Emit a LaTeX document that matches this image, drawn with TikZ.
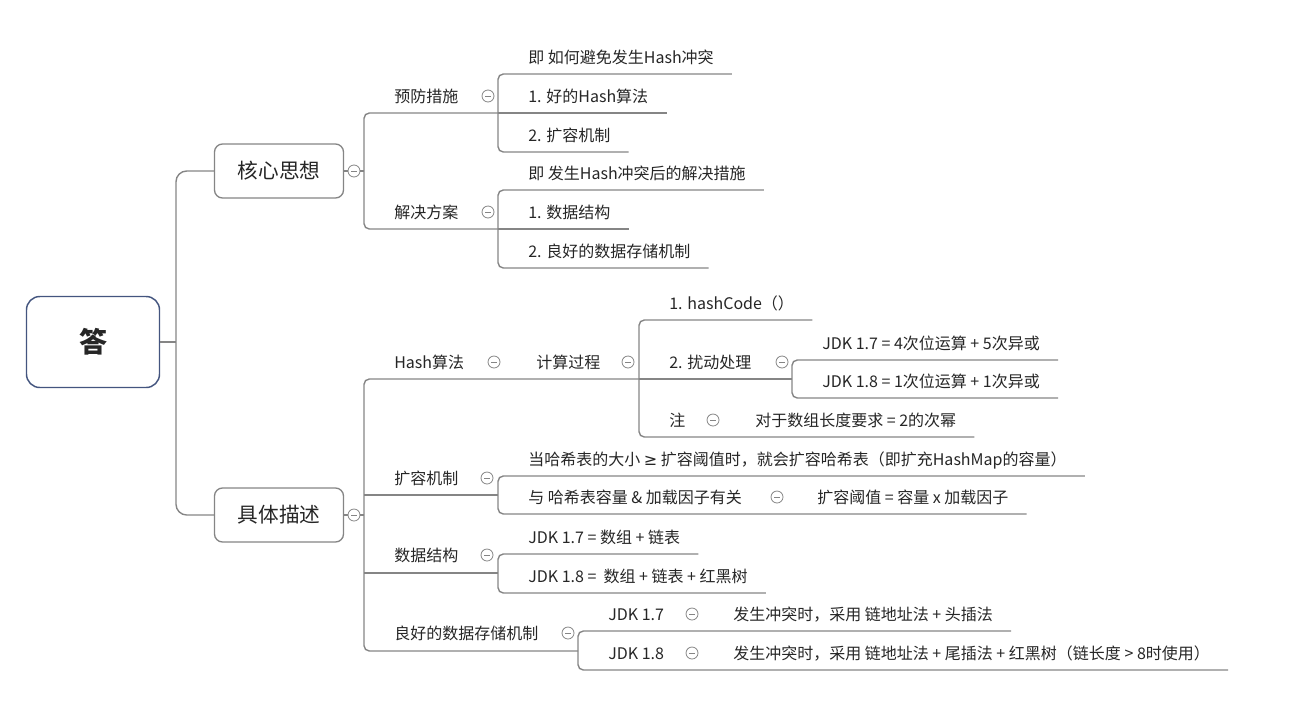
\documentclass[tikz,border=0pt]{standalone}
\usepackage{fontspec}
\setmainfont{Noto Sans CJK SC}
\newfontfamily\symfont{DejaVu Sans}
\usepackage{tikz}
\usetikzlibrary{calc}
\definecolor{ink}{HTML}{262626}
\definecolor{edge}{HTML}{858585}
\definecolor{navy}{HTML}{44557F}

\begin{document}
\begin{tikzpicture}[
    x=0.75pt, y=-0.75pt,
    every node/.style={text=ink, font=\fontsize{12}{14}\selectfont},
    rootbox/.style={draw=navy, line width=1.1pt, fill=white, rounded corners=10pt,
                    minimum width=99.75pt, minimum height=68.25pt,
                    font=\fontsize{21}{24}\selectfont\bfseries},
    topic/.style={draw=edge, line width=1pt, fill=white, rounded corners=6pt,
                  minimum width=96.75pt, minimum height=40.5pt,
                  font=\fontsize{15.5}{18}\selectfont},
    leaf/.style={anchor=west, inner xsep=0pt, inner ysep=0pt, text height=10.5pt, text depth=1.5pt},
    fold/.style={circle, draw=edge, fill=white, line width=0.6pt, minimum size=9pt, inner sep=0pt,
                 path picture={\draw[edge, line width=0.6pt]
                   ([xshift=-2.2pt]path picture bounding box.center) --
                   ([xshift=2.2pt]path picture bounding box.center);}},
    link/.style={draw=edge, line width=1.05pt, rounded corners=4pt}
]
    \useasboundingbox (0,0) rectangle (1291,718);

    \node[rootbox] (ans) at (93,342) {答};
    \node[topic] (core) at (279,171) {核心思想};
    \node[topic] (desc) at (279,515) {具体描述};
    \node[fold] (fcore) at (354,171) {};
    \node[fold] (fdesc) at (354,515) {};

    \node[leaf] (prev) at (394,96) {预防措施};
    \node[fold] (fprev) at (488,96) {};
    \node[leaf] (sol) at (394,212) {解决方案};
    \node[fold] (fsol) at (488,212) {};
    \node[leaf] (p1) at (528,57) {即 如何避免发生Hash冲突};
    \node[leaf] (p2) at (528,96) {1. 好的Hash算法};
    \node[leaf] (p3) at (528,135) {2. 扩容机制};
    \node[leaf] (s1) at (528,173) {即 发生Hash冲突后的解决措施};
    \node[leaf] (s2) at (528,212) {1. 数据结构};
    \node[leaf] (s3) at (528,251) {2. 良好的数据存储机制};

    \node[leaf] (hash) at (394,362) {Hash算法};
    \node[fold] (fhash) at (494,362) {};
    \node[leaf] (proc) at (536,362) {计算过程};
    \node[fold] (fproc) at (628,362) {};
    \node[leaf] (h1) at (669,303) {1. hashCode（）};
    \node[leaf] (h2) at (669,362) {2. 扰动处理};
    \node[fold] (fh2) at (782,362) {};
    \node[leaf] (h3) at (669,420) {注};
    \node[fold] (fh3) at (713,420) {};
    \node[leaf] (pow) at (755,420) {对于数组长度要求 = 2的次幂};
    \node[leaf] (j7) at (822,343) {JDK 1.7 = 4次位运算 + 5次异或};
    \node[leaf] (j8) at (822,381) {JDK 1.8 = 1次位运算 + 1次异或};

    \node[leaf] (grow) at (394,478) {扩容机制};
    \node[fold] (fgrow) at (487,478) {};
    \node[leaf] (g1) at (528,459) {当哈希表的大小 {\symfont ≥} 扩容阈值时，就会扩容哈希表（即扩充HashMap的容量）};
    \node[leaf] (g2) at (528,497) {与 哈希表容量 \& 加载因子有关};
    \node[fold] (fg2) at (777,497) {};
    \node[leaf] (thr) at (817,497) {扩容阈值 = 容量 x 加载因子};

    \node[leaf] (ds) at (394,555) {数据结构};
    \node[fold] (fds) at (487,555) {};
    \node[leaf] (d1) at (528,537) {JDK 1.7 = 数组 + 链表};
    \node[leaf] (d2) at (528,576) {JDK 1.8 =\ \ 数组 + 链表 + 红黑树};

    \node[leaf] (store) at (394,633) {良好的数据存储机制};
    \node[fold] (fstore) at (568,633) {};
    \node[leaf] (v7) at (608,614) {JDK 1.7};
    \node[fold] (fv7) at (692,614) {};
    \node[leaf] (r7) at (733,614) {发生冲突时，采用 链地址法 + 头插法};
    \node[leaf] (v8) at (608,653) {JDK 1.8};
    \node[fold] (fv8) at (692,653) {};
    \node[leaf] (r8) at (733,653) {发生冲突时，采用 链地址法 + 尾插法 + 红黑树（链长度 > 8时使用）};

    \coordinate (jr) at (176,342);
    \coordinate (kc) at (364,171);
    \coordinate (kd) at (364,515);
    \coordinate (kprev) at (498,113);
    \coordinate (ksol) at (498,229);
    \coordinate (kproc) at (639,379);
    \coordinate (kh2) at (792,379);
    \coordinate (kgrow) at (498,495);
    \coordinate (kds) at (498,573);
    \coordinate (kstore) at (578,651);

    \draw[link] (ans.east) -- (jr);
    \draw[link, rounded corners=8pt] (core.west) -| (jr) |- (desc.west);
    \draw[link] (core.east) -- (fcore.west);
    \draw[link] (desc.east) -- (fdesc.west);

    \draw[link] (fcore.east) -- (kc);
    \draw[link] (kprev) -- (kprev -| kc) -- (ksol -| kc) -- (ksol);
    \draw[link] ($(p1.east)+(18,17)$) -| (kprev) |- ($(p3.east)+(18,17)$);
    \draw[link] (kprev) -- ($(p2.east)+(18,17)$);
    \draw[link] ($(s1.east)+(18,17)$) -| (ksol) |- ($(s3.east)+(18,17)$);
    \draw[link] (ksol) -- ($(s2.east)+(18,17)$);

    \draw[link] (fdesc.east) -- (kd);
    \draw[link] (kproc) -- (kproc -| kd) -- (kstore -| kd) -- (kstore);
    \draw[link] (kgrow -| kd) -- (kgrow);
    \draw[link] (kds -| kd) -- (kds);
    \draw[link] ($(h1.east)+(18,17)$) -| (kproc) |- ($(pow.east)+(18,17)$);
    \draw[link] (kproc) -- (kh2);
    \draw[link] ($(j7.east)+(18,17)$) -| (kh2) |- ($(j8.east)+(18,17)$);
    \draw[link] ($(g1.east)+(18,17)$) -| (kgrow) |- ($(thr.east)+(18,17)$);
    \draw[link] ($(d1.east)+(18,17)$) -| (kds) |- ($(d2.east)+(18,17)$);
    \draw[link] ($(r7.east)+(18,17)$) -| (kstore) |- ($(r8.east)+(18,17)$);
\end{tikzpicture}
\end{document}
